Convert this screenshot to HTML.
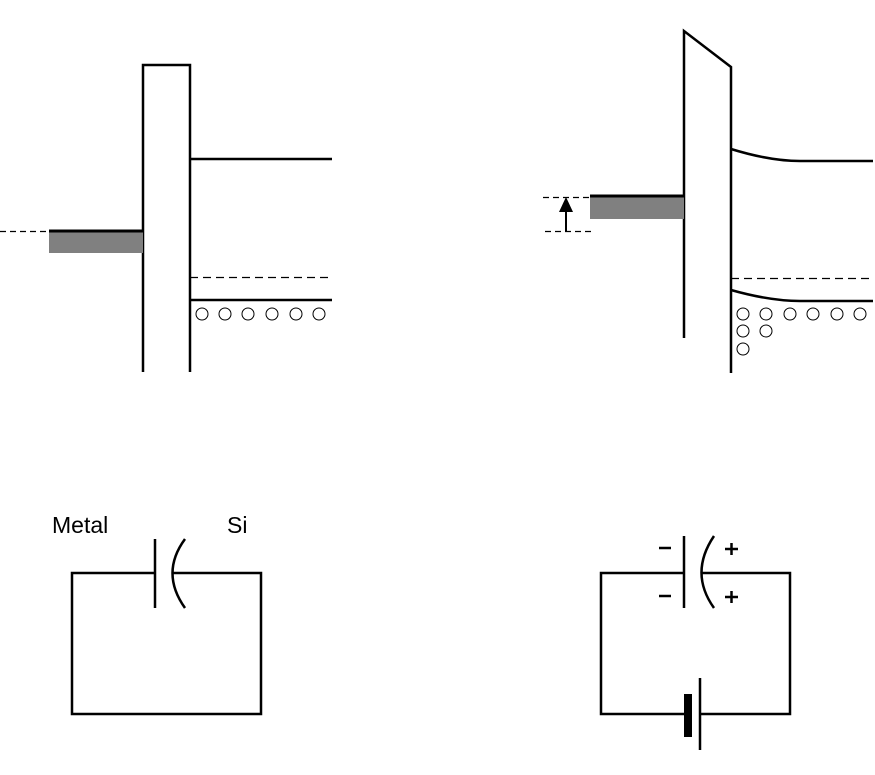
<!DOCTYPE html>
<html><head><meta charset="utf-8"><style>html,body{margin:0;padding:0;background:#fff;}svg{display:block}</style></head>
<body>
<svg width="875" height="775" viewBox="0 0 875 775" xmlns="http://www.w3.org/2000/svg" fill="none" stroke="#000" stroke-width="2.5">
<!-- Left band diagram -->
<path d="M143,372 V65 H190 V372"/>
<line x1="190" y1="159" x2="332" y2="159"/>
<rect x="49" y="231" width="94" height="22" fill="#808080" stroke="none"/>
<line x1="49" y1="231" x2="143" y2="231" stroke-width="3"/>
<line x1="0" y1="231.5" x2="49" y2="231.5" stroke-width="1.2" stroke-dasharray="6,4"/>
<line x1="190" y1="277.5" x2="332" y2="277.5" stroke-width="1.2" stroke-dasharray="8,5"/>
<line x1="190" y1="300" x2="332" y2="300"/>
<g stroke-width="1">
<circle cx="202" cy="314" r="6"/><circle cx="225" cy="314" r="6"/><circle cx="248" cy="314" r="6"/>
<circle cx="272" cy="314" r="6"/><circle cx="296" cy="314" r="6"/><circle cx="319" cy="314" r="6"/>
</g>
<!-- Right band diagram -->
<path d="M684,338 V31 L731,67 V373"/>
<path d="M731,149 Q770,161 800,161 H873"/>
<rect x="590" y="197" width="94" height="22" fill="#808080" stroke="none"/>
<line x1="590" y1="196" x2="684" y2="196" stroke-width="3"/>
<line x1="543" y1="197.5" x2="590" y2="197.5" stroke-width="1.2" stroke-dasharray="6,4"/>
<line x1="545" y1="231.5" x2="591" y2="231.5" stroke-width="1.2" stroke-dasharray="6,4"/>
<line x1="566" y1="231" x2="566" y2="210" stroke-width="2"/>
<polygon points="566,197 559,212 573,212" fill="#000" stroke="none"/>
<line x1="731" y1="278.5" x2="873" y2="278.5" stroke-width="1.2" stroke-dasharray="8,5"/>
<path d="M731,290 Q770,301 800,301 H873"/>
<g stroke-width="1">
<circle cx="743" cy="314" r="6"/><circle cx="766" cy="314" r="6"/><circle cx="790" cy="314" r="6"/>
<circle cx="813" cy="314" r="6"/><circle cx="837" cy="314" r="6"/><circle cx="860" cy="314" r="6"/>
<circle cx="743" cy="331" r="6"/><circle cx="766" cy="331" r="6"/>
<circle cx="743" cy="349" r="6"/>
</g>
<!-- Left circuit -->
<path d="M155,573 H72 V714 H261 V573 H172"/>
<line x1="155" y1="539" x2="155" y2="608"/>
<path d="M185,539 Q160,573 185,608"/>
<text x="52" y="533" font-family="Liberation Sans, sans-serif" font-size="23" fill="#000" stroke="none">Metal</text>
<text x="227" y="533" font-family="Liberation Sans, sans-serif" font-size="23" fill="#000" stroke="none">Si</text>
<!-- Right circuit -->
<path d="M684,573 H601 V714 H684"/>
<path d="M700,714 H790 V573 H701"/>
<line x1="684" y1="536" x2="684" y2="608"/>
<path d="M714,536 Q689,573 714,608"/>
<line x1="659" y1="548" x2="671" y2="548"/>
<line x1="659" y1="596" x2="671" y2="596"/>
<path d="M725,549 H738 M731.5,543 V555"/>
<path d="M725,597 H738 M731.5,591 V603"/>
<rect x="684" y="694" width="8" height="43" fill="#000" stroke="none"/>
<line x1="700" y1="678" x2="700" y2="750"/>
</svg>
</body></html>
